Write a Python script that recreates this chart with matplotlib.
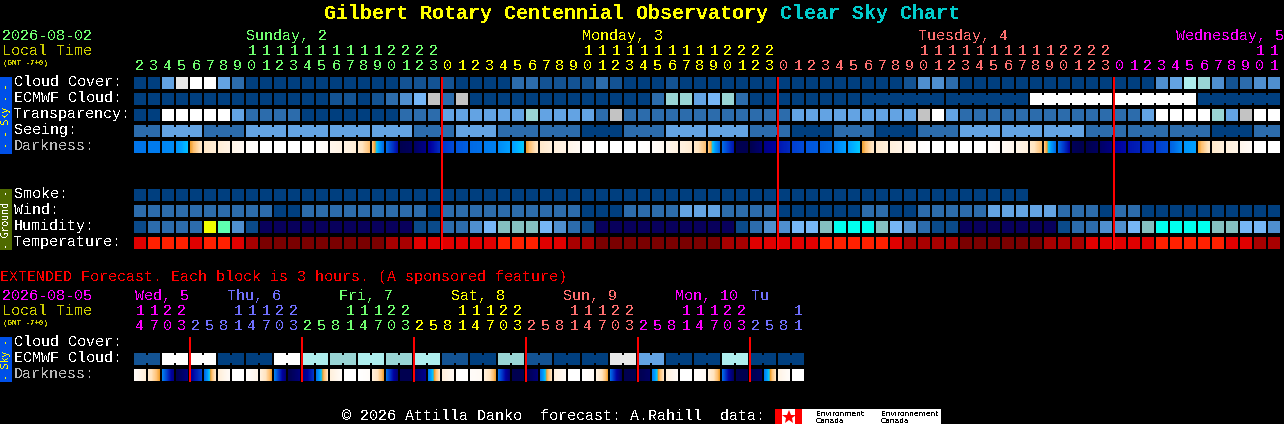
import numpy as np
import matplotlib
matplotlib.use('Agg')
import matplotlib.pyplot as plt
from matplotlib.colors import LinearSegmentedColormap

plt.rcParams['font.family'] = ['Liberation Mono', 'DejaVu Sans Mono']
plt.rcParams['text.antialiased'] = False

# block levels, see sky_colors
cloud_cover = [0, 0, 4, 9, 10, 10, 4, 2,
               0, 0, 0, 0, 0, 0, 0, 0, 0, 0, 0,
               1, 1, 1, 1, 0, 0, 0, 0, 2, 2, 1, 1, 1, 1, 2, 1, 0, 0, 0, 1,
               0, 0, 0, 0, 0, 0, 0, 0, 0, 0, 0, 0, 0, 0, 0, 0,
               1, 3, 3, 2,
               0, 0, 0, 0, 0, 0, 0, 0, 0, 0, 0, 0, 0, 0,
               3, 4, 7, 6, 3, 1, 2, 3, 3]
ecmwf_cloud = [0, 0, 0, 0, 0, 0, 0, 0, 0, 0, 0, 0, 0, 0,
               1, 1, 0, 1, 2, 3, 5, 8, 2, 8,
               0, 0, 0, 0, 0, 0, 0, 0, 0, 0, 0, 0, 0,
               2, 6, 6, 4, 5, 6, 2,
               0, 0, 0, 0, 0, 0, 0, 0, 0, 0, 0, 0, 0, 0, 0, 0, 0, 0, 0, 0,
               10, 10, 10, 10, 10, 10, 10, 10, 10, 10, 10, 10,
               0, 0, 0, 0, 0, 0]
transparency = [0, 0, 10, 10, 10, 10, 10, 4, 2, 2, 2, 2,
                0, 0, 0, 0, 0, 0, 0, 2, 2, 2,
                4, 4, 4, 4, 4, 4, 6, 4, 4, 4, 4, 2, 8,
                2, 2, 2, 2, 2, 2, 2, 2, 2, 2, 2, 2,
                4, 4, 4, 4, 4, 4, 4, 4, 4, 8, 10, 4,
                2, 2, 2, 2, 2, 2, 2, 2, 2, 2, 2, 2, 2,
                4, 10, 10, 10, 10, 6, 4, 8, 10, 10]
seeing = [2, 2, 4, 4, 4, 2, 2, 2,
          4, 4, 4, 4, 4, 4, 4, 4, 4, 4, 4, 4,
          2, 2, 2, 4, 4, 4, 2, 2, 2, 2, 2, 2, 0, 0, 0, 2, 2, 2,
          4, 4, 4, 4, 4, 4, 2, 2, 2, 0, 0, 0, 2, 2, 2, 0, 0, 0, 2, 2, 2,
          4, 4, 4, 4, 4, 4, 4, 4, 4,
          2, 2, 2, 2, 2, 2, 2, 2, 2, 0, 0, 0, 2, 2]
seeing_groups = [0, 2, 5, 8, 11, 14, 17, 20, 23, 26, 29, 32, 35, 38, 41, 44,
                 47, 50, 53, 56, 59, 62, 65, 68, 71, 74, 77, 80]
ecmwf_groups = [52, 58, 64, 70, 76]
smoke = [0, 0, 0, 0, 0, 0, 0, 0, 0, 0, 0, 0, 0, 0, 0, 0,
         0, 0, 0, 0, 0, 0, 0, 0, 0, 0, 0, 0, 0, 0, 0, 0,
         0, 0, 0, 0, 0, 0, 0, 0, 0, 0, 0, 0, 0, 0, 0, 0,
         0, 0, 0, 0, 0, 0, 0, 0, 0, 0, 0, 0, 0, 0, 0, 0,
         None, None, None, None, None, None, None, None, None,
         None, None, None, None, None, None, None, None, None]
wind = [2, 2, 2, 2, 2, 2, 2, 2, 2, 2, 0, 0,
        2, 2, 2, 2, 2, 2, 2, 2, 2, 0,
        2, 2, 2, 2, 2, 2, 2, 2, 2, 2, 0, 0, 0, 2, 2, 2, 2, 4, 4, 4,
        2, 2, 2, 2, 0, 0, 0, 0, 0, 0, 2, 2, 0, 0,
        2, 2, 2, 2, 2, 4, 4, 4, 4, 4, 2, 2, 2, 0, 2, 2,
        0, 0, 0, 0, 0, 0, 0, 0, 0, 0]
humidity = [1, 2, 2, 2, 2, 8, 7, 3, 1,
            0, 0, 0, 0, 0, 0, 0, 0, 0, 0, 0,
            1, 1, 2, 2, 3, 4, 5, 5, 5, 4, 3, 2, 1,
            0, 0, 0, 0, 0, 0, 0, 0, 0, 0,
            1, 2, 3, 3, 4, 4, 5, 6, 6, 6, 5, 4, 3, 2, 1, 1,
            0, 0, 0, 0, 0, 0, 0,
            1, 2, 2, 3, 3, 4, 5, 6, 6, 6, 6, 5, 5, 4, 4, 3]
temperature = [2, 3, 3, 3, 2, 3, 3, 2, 1,
               0, 0, 0, 0, 0, 0, 0, 0, 0,
               1, 1, 2, 2, 2, 2, 2, 2, 3, 3, 3, 2, 2, 1, 1,
               0, 0, 0, 0, 0, 0, 0, 0, 0,
               1, 1, 2, 2, 2, 2, 2, 3, 3, 3, 3, 3, 2, 1, 1, 1, 1,
               0, 0, 0, 0, 0, 0,
               1, 1, 1, 2, 2, 2, 2, 2, 3, 3, 3, 3, 3, 2, 2, 1, 1]

# darkness at left and right edge of each block, 0 = day, 1 = full night
dark_start = [.58, .57, .55, .52, .42, .28, .22, .14, .04, 0, 0, 0, 0, .02, .12, .16, .26, .37, .60, 1, .95, .82,
              .70, .64, .60, .57, .54, .50, .42, .26, .20, .14, .02, 0, 0, 0, 0, .04, .12, .18, .26, .37, .60, 1, 1, .86,
              .76, .68, .64, .62, .56, .50, .42, .26, .20, .14, .02, 0, 0, 0, 0, .02, .06, .14, .26, .37, .60, .98, 1, .94,
              .80, .76, .72, .68, .62, .52, .42, .26, .20, .12, .02, 0]
dark_end = [.58, .57, .54, .47, .28, .22, .16, .08, .02, 0, 0, 0, 0, .04, .16, .22, .38, .60, .78, .97, .86, .72,
            .66, .62, .59, .56, .50, .46, .28, .20, .16, .08, 0, 0, 0, 0, .02, .10, .18, .24, .38, .60, .76, 1, .92, .80,
            .72, .66, .63, .60, .50, .46, .28, .20, .15, .08, 0, 0, 0, 0, 0, .06, .12, .20, .38, .60, .80, 1, .96, .88,
            .78, .74, .70, .66, .54, .50, .28, .20, .15, .06, 0, 0]

ext_ecmwf = [1, 1, 10, 10, 10, 10, 0, 0, 0, 0, 10, 10, 7, 7, 6, 6, 7, 7, 6, 6, 7, 7, 1, 1,
             0, 0, 6, 6, 1, 1, 0, 0, 0, 0, 9, 9, 4, 4, 0, 0, 0, 0, 7, 7, 0, 0, 0, 0]
ext_groups = [0, 2, 4, 6, 8, 10, 12, 14, 16, 18, 20, 22, 24, 26, 28, 30, 32, 34, 36, 38, 40, 42, 44, 46]
ext_dark_start = [.04, .26, .56, 1, .82, .60, .22, 0, .02, .20, .56, 1, .88, .58, .20, 0,
                  0, .20, .60, 1, .95, .56, .20, 0, .04, .20, .60, 1, 1, .58, .18, 0,
                  0, .18, .60, 1, 1, .56, .20, 0, .02, .20, .60, 1, 1, .56, .16, 0]
ext_dark_end = [.22, .42, .86, .88, .68, .28, .06, 0, .14, .42, .90, .90, .70, .30, .06, 0,
                .04, .42, .90, 1, .85, .30, .08, 0, .08, .42, .90, 1, .90, .30, .06, 0,
                .06, .42, .95, 1, .95, .30, .06, 0, .06, .42, .95, 1, .95, .30, .04, 0]

sky_colors = ['#003f7f', '#135393', '#2c6cac', '#4f8fcf', '#63a3e3', '#76b6f6',
              '#99d5d5', '#aeeeee', '#c3c3c3', '#e8e8e8', '#ffffff']
humidity_colors = ['#08005c', '#0a4a8a', '#2c6cac', '#4f8fcf', '#76b6f6', '#84bfbf',
                   '#00ffee', '#5effb0', '#f0ff00']
temp_colors = ['#7a0000', '#a80000', '#e00000', '#ff2000']

dark_cmap = LinearSegmentedColormap.from_list('darkness', [
    (0.00, '#ffffff'), (0.10, '#fff8f0'), (0.20, '#fff0dc'), (0.30, '#ffe4c0'),
    (0.38, '#ffc070'), (0.42, '#f0a030'), (0.44, '#60b0a0'), (0.46, '#00c8ff'),
    (0.50, '#00a0ff'), (0.56, '#0080f0'), (0.62, '#0060e0'), (0.68, '#0040d0'),
    (0.74, '#0020b8'), (0.80, '#0000a0'), (0.88, '#000080'), (1.00, '#000050')])

# hour digits along the top
day_ones = ['2345678901234567890123', '012345678901234567890123',
            '012345678901234567890123', '012345678901']
day_tens = ['        11111111112222', '          11111111112222',
            '          11111111112222', '          11']
day_names = ['Sunday, 2', 'Monday, 3', 'Tuesday, 4', 'Wednesday, 5']
day_name_x = [246, 582, 918, 1176]
GREEN, YELLOW, RED, MAGENTA, BLUE = '#70ff70', '#ffff00', '#ff7070', '#ff00ff', '#7070ff'
day_colors = [GREEN, YELLOW, RED, MAGENTA]

ext_ones = ['4703', '25814703', '25814703', '25814703', '25814703', '25814703', '2581']
ext_tens = ['1122', '   11122', '   11122', '   11122', '   11122', '   11122', '   1']
ext_names = ['Wed, 5', 'Thu, 6', 'Fri, 7', 'Sat, 8', 'Sun, 9', 'Mon, 10', 'Tu']
ext_name_x = [135, 227, 339, 451, 563, 675, 751]
ext_colors = [MAGENTA, BLUE, GREEN, YELLOW, RED, MAGENTA, BLUE]

X0 = 134
PITCH = 14
BW = 12
BH = 12
FS = 10.8

fig = plt.figure(figsize=(12.84, 4.24), dpi=100, facecolor='black')
ax = fig.add_axes([0, 0, 1, 1])
ax.set_facecolor('black')
ax.axis('off')


def txt(x, y, s, color='white', size=FS, **kw):
    ax.text(x, y, s, color=color, fontsize=size, ha=kw.pop('ha', 'left'), va='baseline', **kw)


def side_txt(y, s, color):
    ax.text(6, y, s, color=color, fontsize=7, family='DejaVu Sans Mono', rotation=90,
            ha='center', va='center', zorder=3)


def box(x, y, w, h, color, zorder=2):
    ax.bar(x, h, width=w, bottom=y, align='edge', color=color, linewidth=0, antialiased=False, zorder=zorder)


def draw_row(values, colors, top, groups=None):
    for i, v in enumerate(values):
        if v is None:
            continue
        x = X0 + i * PITCH
        box(x, top, BW, BH, colors[v])
    if groups is None:
        return
    # merged blocks get a narrow neck across the gap
    for g, start in enumerate(groups):
        end = groups[g + 1] if g + 1 < len(groups) else len(values)
        for i in range(start, end - 1):
            box(X0 + i * PITCH + BW, top + 2, PITCH - BW, BH - 4, colors[values[i]])


def draw_dark(starts, ends, top):
    for i, (a, b) in enumerate(zip(starts, ends)):
        x = X0 + i * PITCH
        grad = np.linspace(a, b, BW).reshape(1, -1)
        ax.imshow(grad, extent=(x, x + BW, top + BH, top), aspect='auto', cmap=dark_cmap,
                  vmin=0, vmax=1, interpolation='nearest', zorder=2)


def draw_hours(ones, tens, colors, base_tens, base_ones):
    col = 0
    for o_seg, t_seg, c in zip(ones, tens, colors):
        for o, t in zip(o_seg, t_seg):
            cx = X0 + col * PITCH + 6
            txt(cx, base_ones, o, c, ha='center')
            if t != ' ':
                txt(cx, base_tens, t, c, ha='center')
            col += 1


# title
txt(324, 19, 'Gilbert Rotary Centennial Observatory', YELLOW, 14.4, fontweight='bold')
txt(780, 19, 'Clear Sky Chart', '#00cccc', 14.4, fontweight='bold')

# main header
txt(2, 40, '2026-08-02', GREEN)
txt(2, 55, 'Local Time', '#cccc00')
txt(3, 65, '(GMT -7+0)', '#cccc00', 5.4, fontweight='bold')
for name, x, c in zip(day_names, day_name_x, day_colors):
    txt(x, 40, name, c)
draw_hours(day_ones, day_tens, day_colors, 55, 70)

# sky rows
row_labels = ['Cloud Cover:', 'ECMWF Cloud:', 'Transparency:', 'Seeing:']
for label, base in zip(row_labels, [86, 102, 118, 134]):
    txt(14, base, label)
txt(14, 150, 'Darkness:', '#b8b8b8')
draw_row(cloud_cover, sky_colors, 77)
draw_row(ecmwf_cloud, sky_colors, 93, ecmwf_groups)
draw_row(transparency, sky_colors, 109)
draw_row(seeing, sky_colors, 125, seeing_groups)
draw_dark(dark_start, dark_end, 141)

# ground rows
for label, base in zip(['Smoke:', 'Wind:', 'Humidity:', 'Temperature:'], [198, 214, 230, 246]):
    txt(14, base, label)
draw_row(smoke, sky_colors, 189)
draw_row(wind, sky_colors, 205)
draw_row(humidity, humidity_colors, 221)
draw_row(temperature, temp_colors, 237)

# side bars
box(0, 77, 12, 77, '#0050e8')
box(0, 189, 12, 61, '#4f6a00')
box(0, 337, 12, 45, '#0050e8')
side_txt(115.5, '- - Sky - -', '#ffff00')
side_txt(219.5, '- Ground -', 'white')
side_txt(359.5, '- Sky -', '#ffff00')

# midnight lines
for col in [22, 46, 70]:
    box(X0 + col * PITCH - 1, 77, 2, 173, '#ff0000', zorder=4)

# extended forecast
txt(0, 281, 'EXTENDED Forecast. Each block is 3 hours. (A sponsored feature)', '#ff0000')
txt(2, 300, '2026-08-05', MAGENTA)
txt(2, 315, 'Local Time', '#cccc00')
txt(3, 325, '(GMT -7+0)', '#cccc00', 5.4, fontweight='bold')
for name, x, c in zip(ext_names, ext_name_x, ext_colors):
    txt(x, 300, name, c)
draw_hours(ext_ones, ext_tens, ext_colors, 315, 330)

txt(14, 346, 'Cloud Cover:')
txt(14, 362, 'ECMWF Cloud:')
txt(14, 378, 'Darkness:', '#b8b8b8')
draw_row(ext_ecmwf, sky_colors, 353, ext_groups)
draw_dark(ext_dark_start, ext_dark_end, 369)
for col in [4, 12, 20, 28, 36, 44]:
    box(X0 + col * PITCH - 1, 337, 2, 45, '#ff0000', zorder=4)

# footer and logo
txt(342, 420, '\u00a9 2026 Attilla Danko  forecast: A.Rahill  data:')
box(775, 409, 166, 15, 'white')
box(775, 409, 7, 15, '#ff0000')
box(795, 409, 7, 15, '#ff0000')
ax.plot([788.5], [416.5], marker='*', color='#ff0000', markersize=10, markeredgewidth=0, zorder=3)
for x, word in zip([816, 881], ['Environment', 'Environnement']):
    ax.text(x, 416, word, color='black', fontsize=5.4, family='DejaVu Sans', zorder=3)
    ax.text(x, 423, 'Canada', color='black', fontsize=5.4, family='DejaVu Sans', zorder=3)

ax.set_xlim(0, 1284)
ax.set_ylim(424, 0)
fig.savefig('out.png', dpi=100, facecolor='black')
